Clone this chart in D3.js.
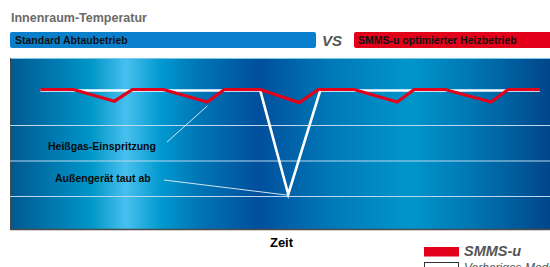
<!DOCTYPE html>
<html>
<head>
<meta charset="utf-8">
<script src="https://cdn.jsdelivr.net/npm/d3@7"></script>
<style>
  body { margin: 0; background: #fff; }
  svg { display: block; font-family: "Liberation Sans", Arial, sans-serif; }
</style>
</head>
<body>
<script>
// time (0..100) and indoor temperature values
var smmsTime  = [0, 6.6, 14.8, 18.4, 24.6, 33.4, 36.8, 44, 51.8, 55.6, 62.8, 71.4, 74.8, 81, 90.2, 93.6, 100];
var smmsTemp  = [22, 22, 21.67, 22, 22, 21.65, 22, 22, 21.63, 22, 22, 21.65, 22, 22, 21.65, 22, 22];
var oldTime   = [0, 44, 49.6, 56, 100];
var oldTemp   = [21.97, 21.97, 19.05, 21.97, 21.97];
var gridTemps = [19, 20, 21];
var gradStops = [
  [0, "#005a8e"], [0.06, "#0070a8"], [0.15, "#0096c8"], [0.215, "#47c0ee"],
  [0.28, "#0099d0"], [0.35, "#0075b5"], [0.46, "#004f9c"], [0.59, "#0078b8"],
  [0.74, "#0096cb"], [0.85, "#0078b4"], [1, "#00468a"]
];

var w = 550, h = 267;
var plot = { left: 10, right: 550, top: 58, bottom: 229 };

var svg = d3.select("body").append("svg")
    .attr("width", w)
    .attr("height", h);

var x = d3.scaleLinear().domain([0, 100]).range([40.5, 540]);
var y = d3.scaleLinear().domain([18, 23]).range([231.5, 54]);

// header
svg.append("text")
    .attr("x", 11).attr("y", 22)
    .attr("font-size", "12.5px").attr("font-weight", "bold")
    .attr("fill", "#6a6a6a")
    .text("Innenraum-Temperatur");

svg.append("rect")
    .attr("x", 10).attr("y", 32).attr("width", 306).attr("height", 16)
    .attr("rx", 2).attr("fill", "#0a7fcb");
svg.append("text")
    .attr("x", 15).attr("y", 44)
    .attr("font-size", "10.5px").attr("font-weight", "bold")
    .attr("fill", "#111")
    .text("Standard Abtaubetrieb");

svg.append("text")
    .attr("x", 322).attr("y", 45.5)
    .attr("font-size", "15px").attr("font-weight", "bold").attr("font-style", "italic")
    .attr("fill", "#555")
    .text("VS");

svg.append("rect")
    .attr("x", 354).attr("y", 32).attr("width", 200).attr("height", 16)
    .attr("rx", 2).attr("fill", "#e2001a");
svg.append("text")
    .attr("x", 358).attr("y", 44)
    .attr("font-size", "10.5px").attr("font-weight", "bold")
    .attr("fill", "#111")
    .text("SMMS-u optimierter Heizbetrieb");

// background gradient
var grad = svg.append("defs").append("linearGradient")
    .attr("id", "bg")
    .attr("x1", "0").attr("x2", "1").attr("y1", "0").attr("y2", "0");
grad.selectAll("stop")
    .data(gradStops)
    .enter()
    .append("stop")
    .attr("offset", function (d) { return d[0]; })
    .attr("stop-color", function (d) { return d[1]; });

svg.append("rect")
    .attr("x", plot.left).attr("y", plot.top)
    .attr("width", plot.right - plot.left).attr("height", plot.bottom - plot.top)
    .attr("fill", "url(#bg)");

svg.append("line")
    .attr("x1", plot.left).attr("x2", plot.right)
    .attr("y1", plot.top + 0.5).attr("y2", plot.top + 0.5)
    .attr("stroke", "#7cc6ea").attr("stroke-width", 1);
svg.append("line")
    .attr("x1", plot.left + 0.5).attr("x2", plot.left + 0.5)
    .attr("y1", plot.top).attr("y2", plot.bottom)
    .attr("stroke", "#4a4a4a").attr("stroke-width", 1);
svg.append("line")
    .attr("x1", plot.left).attr("x2", plot.right)
    .attr("y1", plot.bottom + 0.5).attr("y2", plot.bottom + 0.5)
    .attr("stroke", "#4a4a4a").attr("stroke-width", 1.5);

// grid lines
var yAxis = d3.axisLeft(y)
    .tickValues(gridTemps)
    .tickSize(-(plot.right - plot.left))
    .tickFormat("");
var gAxis = svg.append("g")
    .attr("transform", "translate(" + plot.left + ",0)")
    .call(yAxis);
gAxis.select(".domain").remove();
gAxis.selectAll(".tick line")
    .attr("stroke", "#b8d8ee").attr("stroke-width", 1);

// lines
var line = d3.line()
    .x(function (d) { return x(d[0]); })
    .y(function (d) { return y(d[1]); });

svg.append("path")
    .datum(d3.zip(oldTime, oldTemp))
    .attr("d", line)
    .attr("fill", "none")
    .attr("stroke", "#fff")
    .attr("stroke-width", 2.6)
    .attr("stroke-linejoin", "miter");

svg.append("path")
    .datum(d3.zip(smmsTime, smmsTemp))
    .attr("d", line)
    .attr("fill", "none")
    .attr("stroke", "#e2001a")
    .attr("stroke-width", 3.2)
    .attr("stroke-linejoin", "miter");

// annotations
svg.append("line")
    .attr("x1", 167).attr("y1", 142)
    .attr("x2", x(smmsTime[5])).attr("y2", y(smmsTemp[5]) + 4)
    .attr("stroke", "#e8f4fb").attr("stroke-width", 0.9);
svg.append("text")
    .attr("x", 48).attr("y", 149.5)
    .attr("font-size", "10.5px").attr("font-weight", "bold")
    .attr("fill", "#0a0a0a")
    .text("Heißgas-Einspritzung");

svg.append("line")
    .attr("x1", 164).attr("y1", 180)
    .attr("x2", x(oldTime[2])).attr("y2", y(oldTemp[2]) + 1)
    .attr("stroke", "#e8f4fb").attr("stroke-width", 0.9);
svg.append("text")
    .attr("x", 55).attr("y", 182)
    .attr("font-size", "10.5px").attr("font-weight", "bold")
    .attr("fill", "#0a0a0a")
    .text("Außengerät taut ab");

// x label
svg.append("text")
    .attr("x", 281.5).attr("y", 247)
    .attr("text-anchor", "middle")
    .attr("font-size", "13px").attr("font-weight", "bold")
    .attr("fill", "#000")
    .text("Zeit");

// legend
svg.append("rect")
    .attr("x", 424).attr("y", 247).attr("width", 35).attr("height", 9.5)
    .attr("fill", "#e2001a");
svg.append("text")
    .attr("x", 464).attr("y", 256)
    .attr("font-size", "14.5px").attr("font-weight", "bold").attr("font-style", "italic")
    .attr("fill", "#555")
    .text("SMMS-u");

svg.append("rect")
    .attr("x", 424.5).attr("y", 262.5).attr("width", 34).attr("height", 10)
    .attr("fill", "#fff").attr("stroke", "#333").attr("stroke-width", 1);
svg.append("text")
    .attr("x", 464).attr("y", 272)
    .attr("font-size", "12px").attr("font-style", "italic")
    .attr("fill", "#555")
    .text("Vorheriges Modell");
</script>
</body>
</html>
